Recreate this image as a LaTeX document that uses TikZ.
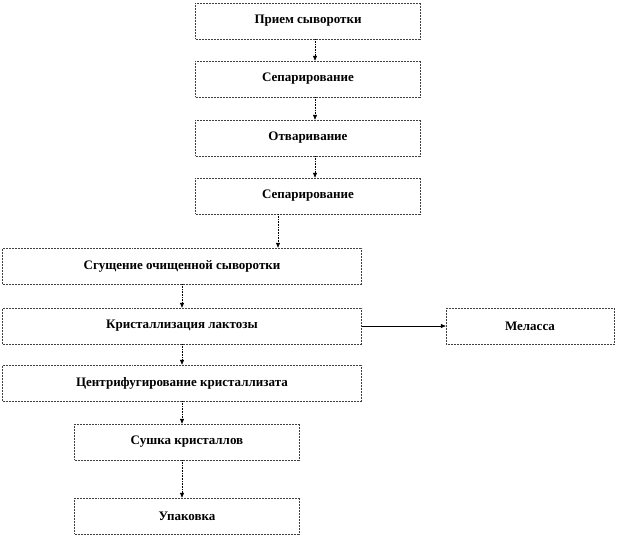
\documentclass[tikz,border=0pt]{standalone}
\usepackage{fontspec}
\setmainfont{Liberation Serif}
\usetikzlibrary{arrows.meta}

\begin{document}
\begin{tikzpicture}[x=1pt,y=-1pt,
    stage/.style={draw=black!75,line width=0.5pt,densely dotted,minimum height=36pt,
      font=\bfseries\fontsize{13}{15}\selectfont,inner sep=0pt},
    arr/.style={-{Triangle[length=5pt,width=4pt]},densely dotted,line width=0.6pt}]
  \useasboundingbox (0,0) rectangle (618,539);
  % upper chain
  \node[stage,minimum width=225pt] (priem) at (308,21) {Прием сыворотки};
  \node[stage,minimum width=225pt] (sep1) at (308,79) {Сепарирование};
  \node[stage,minimum width=225pt] (otvar) at (308,138) {Отваривание};
  \node[stage,minimum width=225pt] (sep2) at (308,196) {Сепарирование};
  % lower chain
  \node[stage,minimum width=359pt] (sgush) at (182,266) {Сгущение очищенной сыворотки};
  \node[stage,minimum width=359pt] (krist) at (182,326) {Кристаллизация лактозы};
  \node[stage,minimum width=168pt] (melas) at (530,326) {Меласса};
  \node[stage,minimum width=359pt] (centr) at (182,383) {Центрифугирование кристаллизата};
  \node[stage,minimum width=225pt] (sush) at (187,442) {Сушка кристаллов};
  \node[stage,minimum width=225pt] (upak) at (187,516) {Упаковка};
  % connectors
  \draw[arr] ([xshift=7pt]priem.south) -- ([xshift=7pt]sep1.north);
  \draw[arr] ([xshift=7pt]sep1.south) -- ([xshift=7pt]otvar.north);
  \draw[arr] ([xshift=7pt]otvar.south) -- ([xshift=7pt]otvar.south |- sep2.north);
  \draw[arr] ([xshift=-30pt]sep2.south) -- ([xshift=-30pt]sep2.south |- sgush.north);
  \draw[arr] (sgush) -- (krist);
  \draw[arr] (krist) -- (centr);
  \draw[-{Triangle[length=5pt,width=4pt]},line width=0.5pt] (krist) -- (melas);
  \draw[arr] (centr.south) -- (centr.south |- sush.north);
  \draw[arr] ([xshift=-5pt]sush.south) -- ([xshift=-5pt]upak.north);
\end{tikzpicture}
\end{document}
